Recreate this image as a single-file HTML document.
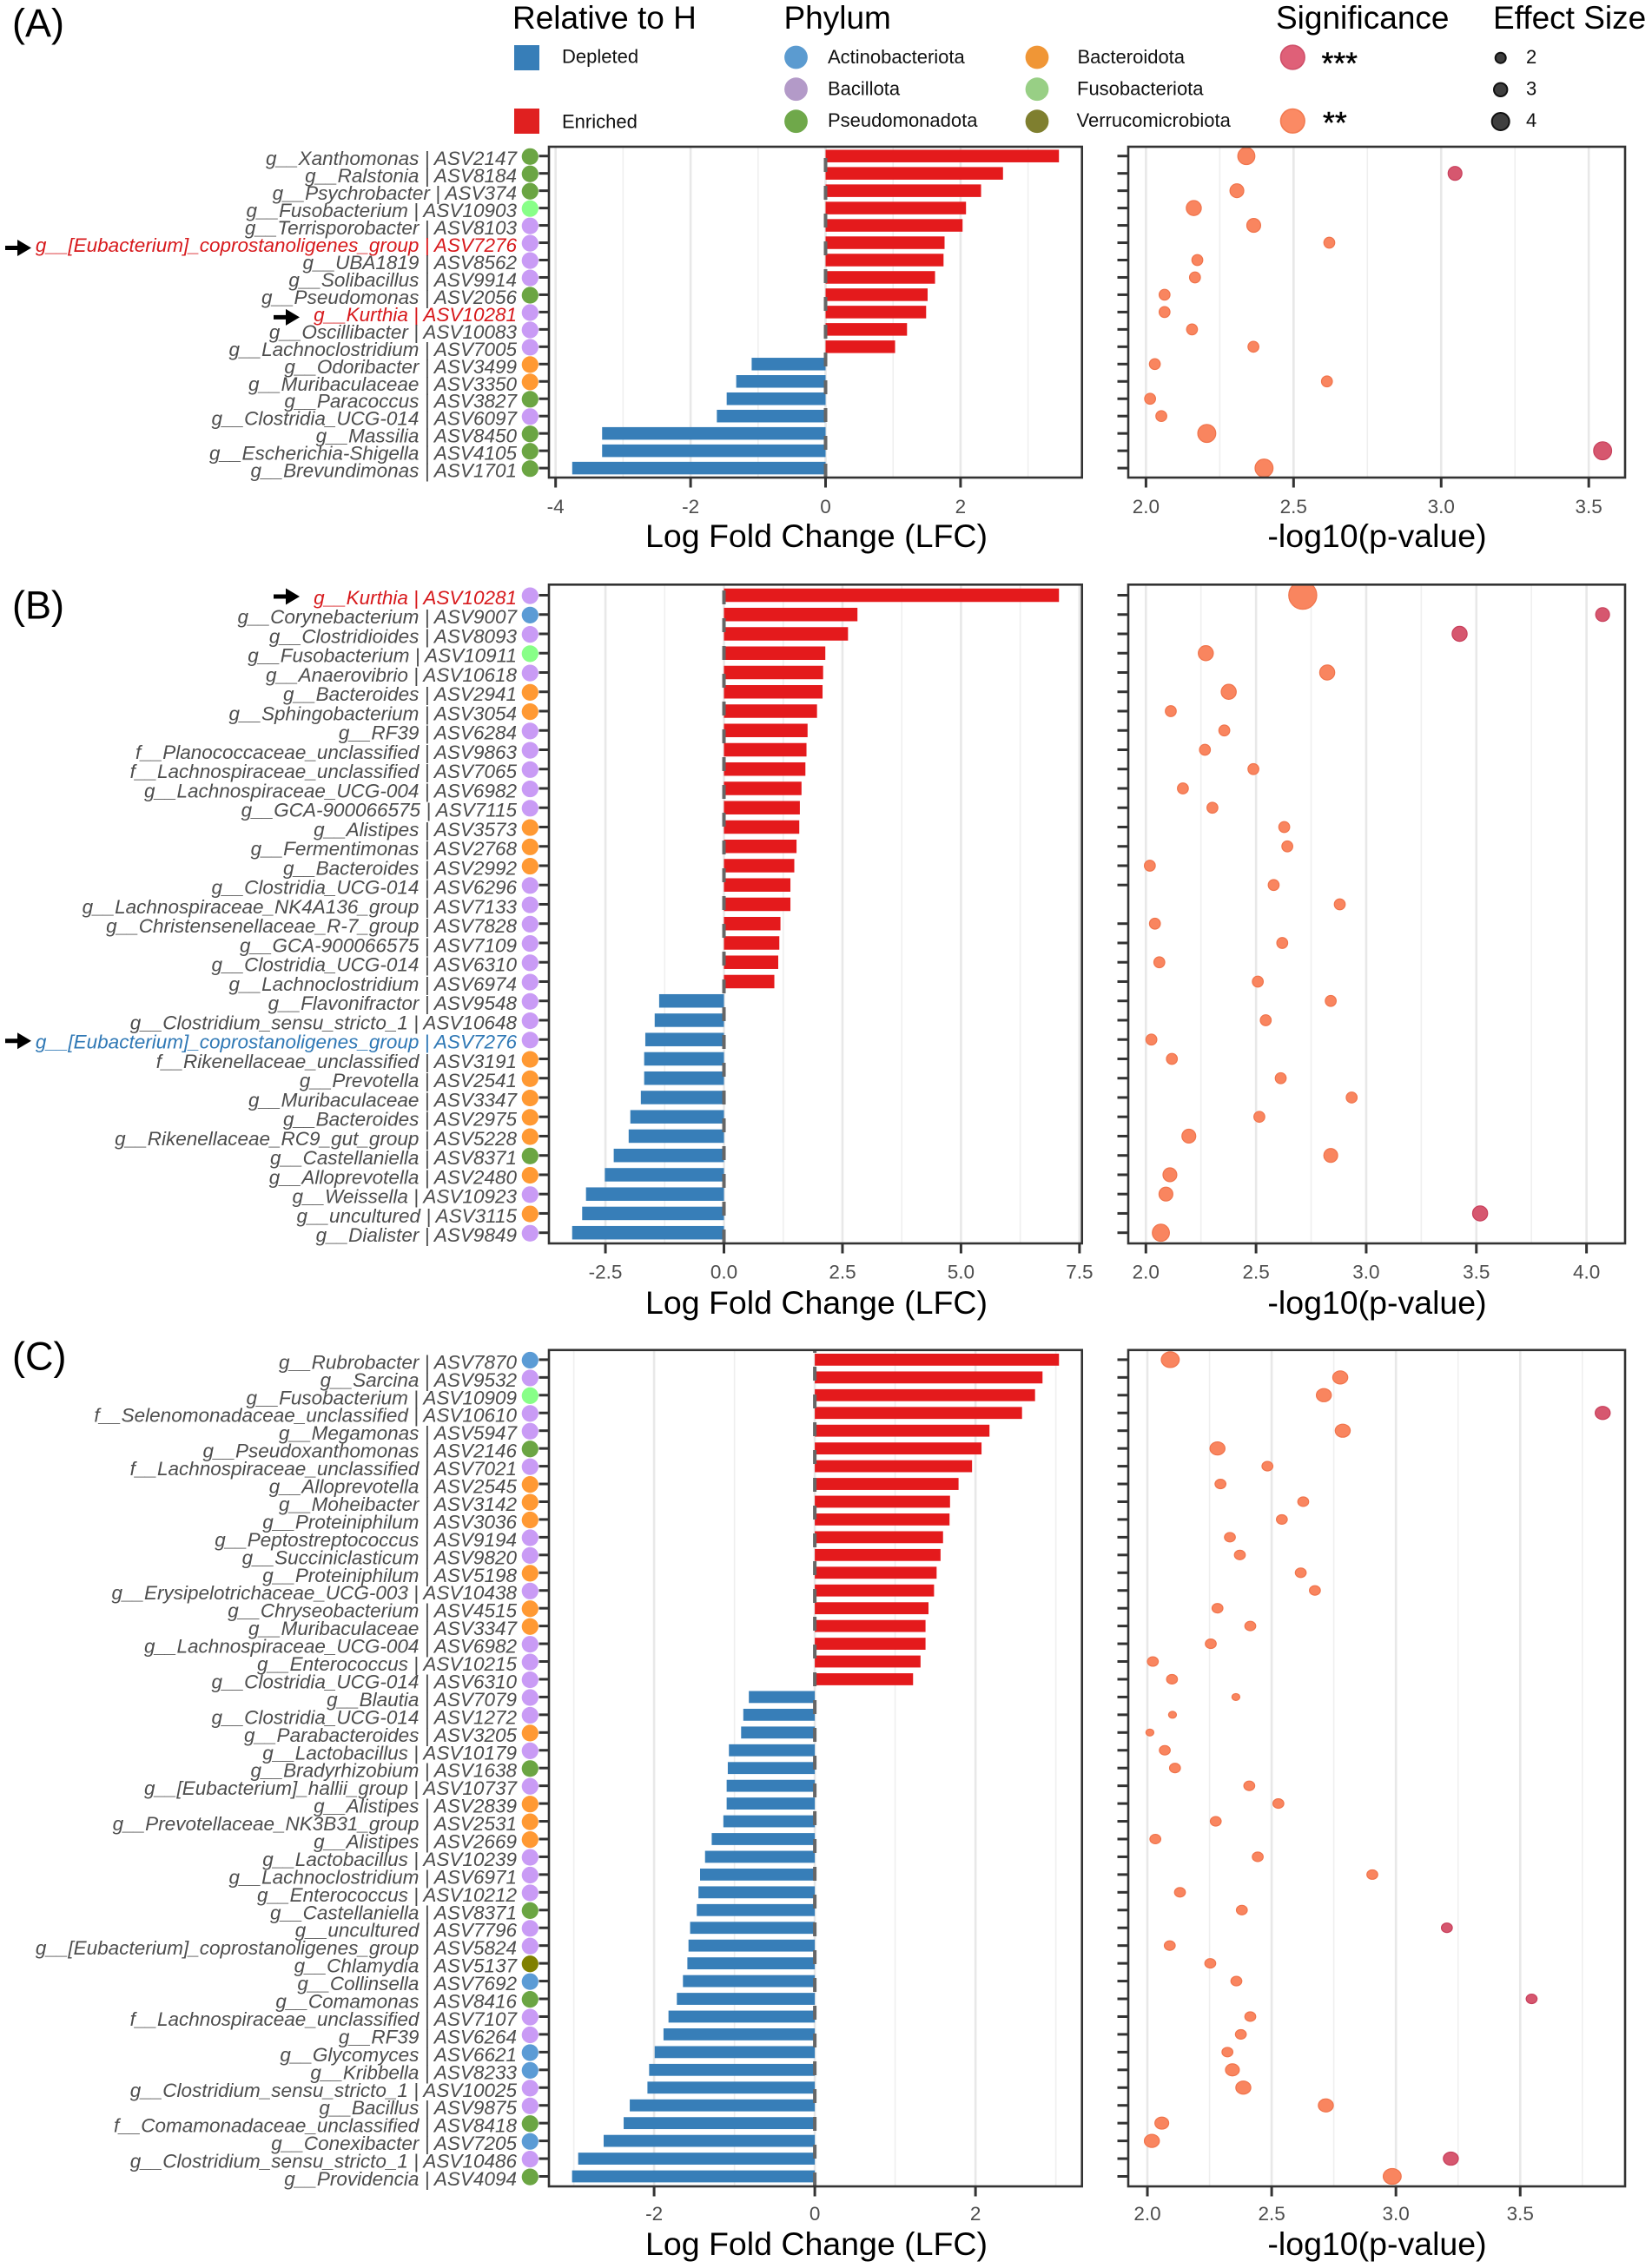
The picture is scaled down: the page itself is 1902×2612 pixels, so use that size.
<!DOCTYPE html>
<html lang="en">
<head>
<meta charset="utf-8">
<title>Differential abundance panels</title>
<style>
html,body{margin:0;padding:0;background:#fff;}
svg{display:block;font-family:"Liberation Sans",sans-serif;}
</style>
</head>
<body>
<svg id="chart" xmlns="http://www.w3.org/2000/svg" width="1902" height="2612" viewBox="0 0 1902 2612">
  <rect x="0" y="0" width="1902" height="2612" fill="#fff"/>
  <g>
    <text x="590" y="33" font-size="37" fill="#000">Relative to H</text>
    <rect x="592" y="52" width="29" height="29" fill="#377EB8"/>
    <text x="647" y="72.5" font-size="22" fill="#111">Depleted</text>
    <rect x="592" y="125" width="29" height="29" fill="#E02020"/>
    <text x="647" y="147.5" font-size="22" fill="#111">Enriched</text>
  </g>
  <g>
    <text x="902.5" y="33" font-size="37" fill="#000">Phylum</text>
    <circle cx="916.5" cy="66" r="13.4" fill="#5B9BD0"/>
    <text x="953" y="72.8" font-size="22" fill="#111">Actinobacteriota</text>
    <circle cx="916.5" cy="102.7" r="13.4" fill="#B39AC8"/>
    <text x="953" y="109.4" font-size="22" fill="#111">Bacillota</text>
    <circle cx="916.5" cy="139.7" r="13.4" fill="#6FA84A"/>
    <text x="953" y="145.8" font-size="22" fill="#111">Pseudomonadota</text>
    <circle cx="1194" cy="66" r="13.4" fill="#F09636"/>
    <text x="1240.5" y="72.8" font-size="22" fill="#111">Bacteroidota</text>
    <circle cx="1194" cy="102.7" r="13.4" fill="#98CF85"/>
    <text x="1240" y="109.4" font-size="22" fill="#111">Fusobacteriota</text>
    <circle cx="1194" cy="139.7" r="13.4" fill="#7F7F2F"/>
    <text x="1239.5" y="145.8" font-size="22" fill="#111">Verrucomicrobiota</text>
  </g>
  <g>
    <text x="1469" y="33" font-size="37" fill="#000">Significance</text>
    <circle cx="1488.3" cy="66" r="13.8" fill="#DF6078" stroke="#CF4F69" stroke-width="1.6"/>
    <text x="1521.5" y="85" font-size="35.5" fill="#000" stroke="#000" stroke-width="0.5">***</text>
    <circle cx="1488.3" cy="139.3" r="13.8" fill="#FB8A64" stroke="#F27A50" stroke-width="1.6"/>
    <text x="1523" y="153.5" font-size="35.5" fill="#000" stroke="#000" stroke-width="0.5">**</text>
  </g>
  <g>
    <text x="1719" y="33" font-size="37" fill="#000">Effect Size</text>
    <circle cx="1727.7" cy="66.7" r="6" fill="#3F3F3F" stroke="#111" stroke-width="2"/>
    <text x="1757" y="72.8" font-size="22" fill="#111">2</text>
    <circle cx="1727.7" cy="103.3" r="7.7" fill="#3F3F3F" stroke="#111" stroke-width="2"/>
    <text x="1757" y="109.4" font-size="22" fill="#111">3</text>
    <circle cx="1727.7" cy="140" r="10" fill="#3F3F3F" stroke="#111" stroke-width="2"/>
    <text x="1757" y="145.8" font-size="22" fill="#111">4</text>
  </g>
  <text x="14" y="42" font-size="45" fill="#000">(A)</text>
  <text x="14" y="712.5" font-size="45" fill="#000">(B)</text>
  <text x="14" y="1577.5" font-size="45" fill="#000">(C)</text>
  <g id="panels"></g>
</svg>
<script>
// ---------- Panel A data ----------
const aTaxa = ["g__Xanthomonas | ASV2147","g__Ralstonia | ASV8184","g__Psychrobacter | ASV374","g__Fusobacterium | ASV10903","g__Terrisporobacter | ASV8103","g__[Eubacterium]_coprostanoligenes_group | ASV7276","g__UBA1819 | ASV8562","g__Solibacillus | ASV9914","g__Pseudomonas | ASV2056","g__Kurthia | ASV10281","g__Oscillibacter | ASV10083","g__Lachnoclostridium | ASV7005","g__Odoribacter | ASV3499","g__Muribaculaceae | ASV3350","g__Paracoccus | ASV3827","g__Clostridia_UCG-014 | ASV6097","g__Massilia | ASV8450","g__Escherichia-Shigella | ASV4105","g__Brevundimonas | ASV1701"];
const aPhylum = ["PSE","PSE","PSE","FUS","BAC","BAC","BAC","BAC","PSE","BAC","BAC","BAC","BCT","BCT","PSE","BAC","PSE","PSE","PSE"];
const aLfc = [3.458,2.629,2.304,2.081,2.03,1.763,1.748,1.622,1.512,1.49,1.207,1.03,-1.095,-1.324,-1.465,-1.611,-3.311,-3.311,-3.754];
const aLogP = [2.34,3.047,2.308,2.162,2.365,2.621,2.174,2.166,2.063,2.063,2.156,2.364,2.03,2.613,2.014,2.052,2.206,3.547,2.4];
const aEffect = [3.9,2.8,2.8,3.2,2.8,1.8,1.8,1.8,1.8,1.8,1.8,1.8,1.8,1.8,1.8,1.8,4.2,4.2,4.2];
const aLfcTicks = [-4,-2,0,2];
const aLfcTickLabels = ["-4","-2","0","2"];
const aLfcMinor = [-3,-1,1,3];
const aLfcDomain = [-4.099,3.799];
const aLogPTicks = [2,2.5,3,3.5];
const aLogPTickLabels = ["2.0","2.5","3.0","3.5"];
const aLogPMinor = [2.25,2.75,3.25];
const aLogPDomain = [1.94,3.623];

// ---------- Panel B data ----------
const bTaxa = ["g__Kurthia | ASV10281","g__Corynebacterium | ASV9007","g__Clostridioides | ASV8093","g__Fusobacterium | ASV10911","g__Anaerovibrio | ASV10618","g__Bacteroides | ASV2941","g__Sphingobacterium | ASV3054","g__RF39 | ASV6284","f__Planococcaceae_unclassified | ASV9863","f__Lachnospiraceae_unclassified | ASV7065","g__Lachnospiraceae_UCG-004 | ASV6982","g__GCA-900066575 | ASV7115","g__Alistipes | ASV3573","g__Fermentimonas | ASV2768","g__Bacteroides | ASV2992","g__Clostridia_UCG-014 | ASV6296","g__Lachnospiraceae_NK4A136_group | ASV7133","g__Christensenellaceae_R-7_group | ASV7828","g__GCA-900066575 | ASV7109","g__Clostridia_UCG-014 | ASV6310","g__Lachnoclostridium | ASV6974","g__Flavonifractor | ASV9548","g__Clostridium_sensu_stricto_1 | ASV10648","g__[Eubacterium]_coprostanoligenes_group | ASV7276","f__Rikenellaceae_unclassified | ASV3191","g__Prevotella | ASV2541","g__Muribaculaceae | ASV3347","g__Bacteroides | ASV2975","g__Rikenellaceae_RC9_gut_group | ASV5228","g__Castellaniella | ASV8371","g__Alloprevotella | ASV2480","g__Weissella | ASV10923","g__uncultured | ASV3115","g__Dialister | ASV9849"];
const bPhylum = ["BAC","ACT","BAC","FUS","BAC","BCT","BCT","BAC","BAC","BAC","BAC","BAC","BCT","BCT","BCT","BAC","BAC","BAC","BAC","BAC","BAC","BAC","BAC","BAC","BCT","BCT","BCT","BCT","BCT","PSE","BCT","BAC","BCT","BAC"];
const bLfc = [7.067,2.816,2.617,2.138,2.092,2.08,1.963,1.764,1.741,1.718,1.636,1.601,1.589,1.531,1.484,1.402,1.402,1.192,1.168,1.145,1.063,-1.367,-1.461,-1.659,-1.683,-1.683,-1.753,-1.975,-2.01,-2.325,-2.512,-2.91,-2.991,-3.202];
const bLogP = [2.712,4.073,3.424,2.272,2.823,2.376,2.113,2.356,2.268,2.488,2.168,2.302,2.628,2.642,2.018,2.58,2.88,2.041,2.619,2.061,2.508,2.839,2.544,2.025,2.118,2.612,2.934,2.515,2.195,2.839,2.109,2.091,3.517,2.068];
const bEffect = [7.6,2.8,3.2,3.2,3.2,3.2,1.8,1.8,1.8,1.8,1.8,1.8,1.8,1.8,1.8,1.8,1.8,1.8,1.8,1.8,1.8,1.8,1.8,1.8,1.8,1.8,1.8,1.8,2.8,2.8,2.8,2.8,3.2,3.9];
const bLfcTicks = [-2.5,0,2.5,5,7.5];
const bLfcTickLabels = ["-2.5","0.0","2.5","5.0","7.5"];
const bLfcMinor = [-1.25,1.25,3.75,6.25];
const bLfcDomain = [-3.692,7.552];
const bLogPTicks = [2,2.5,3,3.5,4];
const bLogPTickLabels = ["2.0","2.5","3.0","3.5","4.0"];
const bLogPMinor = [2.25,2.75,3.25,3.75];
const bLogPDomain = [1.92,4.175];

// ---------- Panel C data ----------
const cTaxa = ["g__Rubrobacter | ASV7870","g__Sarcina | ASV9532","g__Fusobacterium | ASV10909","f__Selenomonadaceae_unclassified | ASV10610","g__Megamonas | ASV5947","g__Pseudoxanthomonas | ASV2146","f__Lachnospiraceae_unclassified | ASV7021","g__Alloprevotella | ASV2545","g__Moheibacter | ASV3142","g__Proteiniphilum | ASV3036","g__Peptostreptococcus | ASV9194","g__Succiniclasticum | ASV9820","g__Proteiniphilum | ASV5198","g__Erysipelotrichaceae_UCG-003 | ASV10438","g__Chryseobacterium | ASV4515","g__Muribaculaceae | ASV3347","g__Lachnospiraceae_UCG-004 | ASV6982","g__Enterococcus | ASV10215","g__Clostridia_UCG-014 | ASV6310","g__Blautia | ASV7079","g__Clostridia_UCG-014 | ASV1272","g__Parabacteroides | ASV3205","g__Lactobacillus | ASV10179","g__Bradyrhizobium | ASV1638","g__[Eubacterium]_hallii_group | ASV10737","g__Alistipes | ASV2839","g__Prevotellaceae_NK3B31_group | ASV2531","g__Alistipes | ASV2669","g__Lactobacillus | ASV10239","g__Lachnoclostridium | ASV6971","g__Enterococcus | ASV10212","g__Castellaniella | ASV8371","g__uncultured | ASV7796","g__[Eubacterium]_coprostanoligenes_group | ASV5824","g__Chlamydia | ASV5137","g__Collinsella | ASV7692","g__Comamonas | ASV8416","f__Lachnospiraceae_unclassified | ASV7107","g__RF39 | ASV6264","g__Glycomyces | ASV6621","g__Kribbella | ASV8233","g__Clostridium_sensu_stricto_1 | ASV10025","g__Bacillus | ASV9875","f__Comamonadaceae_unclassified | ASV8418","g__Conexibacter | ASV7205","g__Clostridium_sensu_stricto_1 | ASV10486","g__Providencia | ASV4094"];
const cPhylum = ["ACT","BAC","FUS","BAC","BAC","PSE","BAC","BCT","BCT","BCT","BAC","BAC","BCT","BAC","BCT","BCT","BAC","BAC","BAC","BAC","BAC","BCT","BAC","PSE","BAC","BCT","BCT","BCT","BAC","BAC","BAC","PSE","BAC","BAC","VER","ACT","PSE","BAC","BAC","ACT","ACT","BAC","BAC","PSE","ACT","BAC","PSE"];
const cLfc = [3.039,2.834,2.741,2.579,2.174,2.075,1.957,1.789,1.683,1.677,1.596,1.565,1.516,1.484,1.415,1.378,1.378,1.316,1.223,-0.821,-0.89,-0.917,-1.069,-1.083,-1.097,-1.097,-1.138,-1.283,-1.366,-1.428,-1.448,-1.469,-1.552,-1.572,-1.586,-1.641,-1.717,-1.821,-1.883,-1.993,-2.062,-2.083,-2.303,-2.379,-2.628,-2.945,-3.021];
const cLogP = [2.092,2.776,2.71,3.832,2.786,2.282,2.483,2.294,2.627,2.541,2.332,2.372,2.617,2.674,2.282,2.414,2.255,2.022,2.099,2.356,2.101,2.01,2.07,2.111,2.41,2.527,2.275,2.032,2.444,2.905,2.131,2.38,3.205,2.09,2.253,2.358,3.546,2.414,2.376,2.322,2.342,2.386,2.718,2.058,2.018,3.221,2.985];
const cEffect = [4.2,3.2,3.2,3.2,3.2,3.2,1.8,1.8,1.8,1.8,1.8,1.8,1.8,1.8,1.8,1.8,1.8,1.8,1.8,0.8,0.8,0.8,1.8,1.8,1.8,1.8,1.8,1.8,1.8,1.8,1.8,1.8,1.8,1.8,1.8,1.8,1.8,1.8,1.8,1.8,2.8,3.2,3.2,2.8,3.2,3.2,4.2];
const cLfcTicks = [-2,0,2];
const cLfcTickLabels = ["-2","0","2"];
const cLfcMinor = [-3,-1,1,3];
const cLfcDomain = [-3.309,3.325];
const cLogPTicks = [2,2.5,3,3.5];
const cLogPTickLabels = ["2.0","2.5","3.0","3.5"];
const cLogPMinor = [2.25,2.75,3.25,3.75];
const cLogPDomain = [1.923,3.922];

// ---------- Shared encodings ----------
const phylumColors = {ACT:"#5B9BD5",BAC:"#C99BF5",PSE:"#6BA543",BCT:"#FF9933",FUS:"#88FF88",VER:"#808000"};
const significanceThreshold = 3;

const NS = "http://www.w3.org/2000/svg";
const root = document.getElementById("panels");

function make(parent, tag, attrs, text) {
  const el = document.createElementNS(NS, tag);
  for (const k in attrs) el.setAttribute(k, attrs[k]);
  if (text !== undefined) el.textContent = text;
  parent.appendChild(el);
  return el;
}
function linear(domain, range) {
  return v => range[0] + (v - domain[0]) * (range[1] - range[0]) / (domain[1] - domain[0]);
}

function drawPanel(p) {
  const L = {x0: 632, x1: 1245.7};
  const R = {x0: 1299, x1: 1871};
  const n = p.taxa.length;
  const step = (p.bottom - p.top - p.padTop - p.padBottom) / (n - 1);
  const rowY = i => p.top + p.padTop + i * step;
  const xLfc = linear(p.lfcDomain, [L.x0, L.x1]);
  const xP = linear(p.pDomain, [R.x0, R.x1]);
  const radius = e => 3.2 + 1.7 * e;

  const panel = make(root, "g", {});
  
  

  // ----- left: bar chart -----
  const left = make(panel, "g", {});
  
  

  p.lfcMinor.forEach(v => {
    const g = make(left, "line", {x1: xLfc(v), x2: xLfc(v), y1: p.top, y2: p.bottom, stroke: "#EFEFEF", "stroke-width": 1.6});
    
    
  });
  p.lfcTicks.forEach(v => {
    const g = make(left, "line", {x1: xLfc(v), x2: xLfc(v), y1: p.top, y2: p.bottom, stroke: "#E8E8E8", "stroke-width": 2.6});
    
    
  });

  p.lfc.forEach((v, i) => {
    const a = xLfc(0), b = xLfc(v);
    const bar = make(left, "rect", {
      x: Math.min(a, b), y: rowY(i) - p.barH / 2, width: Math.abs(b - a), height: p.barH,
      fill: v >= 0 ? "#E41A1C" : "#377EB8"
    });
    
    
  });

  const zero = make(left, "line", {
    x1: xLfc(0), x2: xLfc(0), y1: p.bottom, y2: p.top,
    stroke: "#666", "stroke-width": 4, "stroke-dasharray": "16 16"
  });
  
  

  const lb = make(left, "rect", {x: L.x0, y: p.top, width: L.x1 - L.x0, height: p.bottom - p.top, fill: "none", stroke: "#333", "stroke-width": 2.6});
  
  

  p.lfcTicks.forEach((v, i) => {
    const t = make(left, "line", {x1: xLfc(v), x2: xLfc(v), y1: p.bottom, y2: p.bottom + 11.5, stroke: "#333", "stroke-width": 3});
    
    
    const l = make(left, "text", {x: xLfc(v), y: p.tickLabelY, "text-anchor": "middle", "font-size": 22.5, fill: "#4D4D4D"}, p.lfcTickLabels[i]);
    
    
  });

  const lt = make(left, "text", {x: 940, y: p.titleY, "text-anchor": "middle", "font-size": 37.5, fill: "#000"}, "Log Fold Change (LFC)");
  
  

  // ----- taxon labels, phylum dots, y ticks -----
  p.taxa.forEach((label, i) => {
    const y = rowY(i);
    const highlight = p.highlights[label];
    const txt = make(left, "text", {
      x: 595, y: y + 10.5, "text-anchor": "end", "font-size": 22.5, "font-style": "italic",
      fill: highlight || "#4D4D4D"
    }, label);
    
    
    const dot = make(left, "circle", {cx: 610.3, cy: y + 0.6, r: 9.6, fill: phylumColors[p.phylum[i]]});
    
    
    const tk = make(left, "line", {x1: L.x0 - 11.5, x2: L.x0, y1: y, y2: y, stroke: "#333", "stroke-width": 3});
    
    
  });

  // ----- right: significance dots -----
  const right = make(panel, "g", {});
  
  

  const clipId = "clip-" + p.id;
  const defs = make(right, "clipPath", {id: clipId});
  make(defs, "rect", {x: R.x0, y: p.top, width: R.x1 - R.x0, height: p.bottom - p.top});

  p.pMinor.forEach(v => {
    const g = make(right, "line", {x1: xP(v), x2: xP(v), y1: p.top, y2: p.bottom, stroke: "#EFEFEF", "stroke-width": 1.6});
    
    
  });
  p.pTicks.forEach(v => {
    const g = make(right, "line", {x1: xP(v), x2: xP(v), y1: p.top, y2: p.bottom, stroke: "#E8E8E8", "stroke-width": 2.6});
    
    
  });

  const dots = make(right, "g", {"clip-path": "url(#" + clipId + ")"});
  
  
  p.logP.forEach((v, i) => {
    const sig = v >= significanceThreshold;
    const r = radius(p.effect[i]);
    const pt = make(dots, "ellipse", {
      cx: xP(v), cy: rowY(i), rx: r, ry: r * p.squash,
      fill: sig ? "#D6576F" : "#F9855F",
      stroke: sig ? "#C8405C" : "#F0744C", "stroke-width": 1.2
    });
    
    
  });

  const rb = make(right, "rect", {x: R.x0, y: p.top, width: R.x1 - R.x0, height: p.bottom - p.top, fill: "none", stroke: "#333", "stroke-width": 2.6});
  
  

  p.taxa.forEach((label, i) => {
    if (p.hiddenPTicks.includes(i)) return;
    const tk = make(right, "line", {x1: R.x0 - 12.5, x2: R.x0, y1: rowY(i), y2: rowY(i), stroke: "#333", "stroke-width": 3});
    
    
  });
  p.pTicks.forEach((v, i) => {
    const t = make(right, "line", {x1: xP(v), x2: xP(v), y1: p.bottom, y2: p.bottom + 11.5, stroke: "#333", "stroke-width": 3});
    
    
    const l = make(right, "text", {x: xP(v), y: p.tickLabelY, "text-anchor": "middle", "font-size": 22.5, fill: "#4D4D4D"}, p.pTickLabels[i]);
    
    
  });

  const rt = make(right, "text", {x: 1585.5, y: p.titleY, "text-anchor": "middle", "font-size": 37.5, fill: "#000"}, "-log10(p-value)");
  
  

  // ----- arrows pointing at highlighted taxa -----
  p.arrows.forEach(a => {
    const y = rowY(p.taxa.indexOf(a.label)) + p.arrowOffset;
    const m = make(panel, "path", {
      d: "M" + a.x + " " + (y - 2.5) + "H" + (a.x + 14) + "V" + (y - 9.5) + "L" + (a.x + 30) + " " + y + "L" + (a.x + 14) + " " + (y + 9.5) + "V" + (y + 2.5) + "H" + a.x + "Z",
      fill: "#000"
    });
    
    
  });
}

drawPanel({id: "a", top: 169, bottom: 550, padTop: 10.7, padBottom: 10.9, barH: 14.5, tickLabelY: 591, titleY: 630, squash: 1,
  taxa: aTaxa, phylum: aPhylum, lfc: aLfc, logP: aLogP, effect: aEffect,
  lfcTicks: aLfcTicks, lfcTickLabels: aLfcTickLabels, lfcMinor: aLfcMinor, lfcDomain: aLfcDomain,
  pTicks: aLogPTicks, pTickLabels: aLogPTickLabels, pMinor: aLogPMinor, pDomain: aLogPDomain,
  highlights: {"g__[Eubacterium]_coprostanoligenes_group | ASV7276": "#D7191C", "g__Kurthia | ASV10281": "#D7191C"},
  hiddenPTicks: [], arrowOffset: 6,
  arrows: [{label: "g__[Eubacterium]_coprostanoligenes_group | ASV7276", x: 6}, {label: "g__Kurthia | ASV10281", x: 315}]
});
drawPanel({id: "b", top: 673.3, bottom: 1432, padTop: 12.2, padBottom: 12.3, barH: 15.5, tickLabelY: 1472.5, titleY: 1513, squash: 1,
  taxa: bTaxa, phylum: bPhylum, lfc: bLfc, logP: bLogP, effect: bEffect,
  lfcTicks: bLfcTicks, lfcTickLabels: bLfcTickLabels, lfcMinor: bLfcMinor, lfcDomain: bLfcDomain,
  pTicks: bLogPTicks, pTickLabels: bLogPTickLabels, pMinor: bLogPMinor, pDomain: bLogPDomain,
  highlights: {"g__Kurthia | ASV10281": "#D7191C", "g__[Eubacterium]_coprostanoligenes_group | ASV7276": "#2F78B5"},
  hiddenPTicks: [16], arrowOffset: 1.5,
  arrows: [{label: "g__Kurthia | ASV10281", x: 315}, {label: "g__[Eubacterium]_coprostanoligenes_group | ASV7276", x: 6}]
});
drawPanel({id: "c", top: 1554.8, bottom: 2518, padTop: 11.1, padBottom: 11.5, barH: 13.8, tickLabelY: 2557, titleY: 2597, squash: 0.87,
  taxa: cTaxa, phylum: cPhylum, lfc: cLfc, logP: cLogP, effect: cEffect,
  lfcTicks: cLfcTicks, lfcTickLabels: cLfcTickLabels, lfcMinor: cLfcMinor, lfcDomain: cLfcDomain,
  pTicks: cLogPTicks, pTickLabels: cLogPTickLabels, pMinor: cLogPMinor, pDomain: cLogPDomain,
  highlights: {},
  hiddenPTicks: [], arrowOffset: 0,
  arrows: []
});
</script>
</body>
</html>
